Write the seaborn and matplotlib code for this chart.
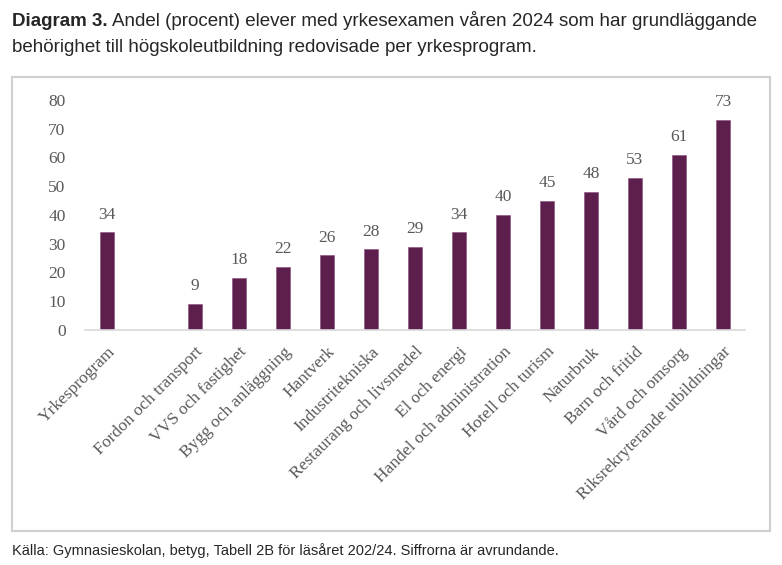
import pandas as pd
import numpy as np
import matplotlib.pyplot as plt
import seaborn as sns
from matplotlib.patches import Rectangle

# data
categories = ['Yrkesprogram', ' ', 'Fordon och transport', 'VVS och fastighet',
              'Bygg och anläggning', 'Hantverk', 'Industritekniska',
              'Restaurang och livsmedel', 'El och energi', 'Handel och administration',
              'Hotell och turism', 'Naturbruk', 'Barn och fritid', 'Vård och omsorg',
              'Riksrekryterande utbildningar']
programs = ['Yrkesprogram', 'Fordon och transport', 'VVS och fastighet',
            'Bygg och anläggning', 'Hantverk', 'Industritekniska',
            'Restaurang och livsmedel', 'El och energi', 'Handel och administration',
            'Hotell och turism', 'Naturbruk', 'Barn och fritid', 'Vård och omsorg',
            'Riksrekryterande utbildningar']
values = [34, 9, 18, 22, 26, 28, 29, 34, 40, 45, 48, 53, 61, 73]
yticks = [0, 10, 20, 30, 40, 50, 60, 70, 80]

df = pd.DataFrame({'program': programs, 'andel': values})

sns.set_style("white")
plt.rcParams['font.family'] = ['Liberation Sans', 'DejaVu Sans']

fig = plt.figure(figsize=(7.82, 5.65), dpi=100)
ax = fig.add_axes([0.1087, 0.416, 0.844, 0.407])

barcolor = '#5c1f4e'
sns.barplot(data=df, x='program', y='andel', order=categories, color=barcolor,
            width=0.32, saturation=1, ax=ax, edgecolor='#8a4a7a', linewidth=0.4)

ax.set_ylim(0, 80)
ax.set_xlim(-0.5, len(categories) - 0.5)
ax.set_yticks(yticks)
ax.set_xlabel('')
ax.set_ylabel('')

serif = ['Liberation Serif', 'DejaVu Serif']
grey = '#595959'
ax.set_yticklabels([str(t) for t in yticks], family=serif, fontsize=12.5, color=grey)
ax.set_xticks(range(len(categories)))
ax.set_xticklabels(categories, family=serif, fontsize=12.5, color=grey,
                   rotation=45, ha='right', rotation_mode='anchor')
ax.tick_params(axis='y', length=0, pad=14)
ax.tick_params(axis='x', length=0, pad=10)

for s in ['top', 'right', 'left']:
    ax.spines[s].set_visible(False)
ax.spines['bottom'].set_color('#d9d9d9')
ax.spines['bottom'].set_linewidth(1.2)

for c in ax.containers:
    labels = [('' if np.isnan(v) else str(int(round(v)))) for v in c.datavalues]
    txts = ax.bar_label(c, labels=labels, padding=7, fontsize=12.5, color=grey, family=serif)
    for t in txts:
        t.set_clip_on(False)

# frame around the chart
fig.patches.append(Rectangle((0.0153, 0.0602), 0.9695, 0.8035, transform=fig.transFigure,
                             fill=False, edgecolor='#cfcfcf', linewidth=1.5))

# title: bold lead-in followed by regular text
t1 = fig.text(0.0153, 0.954, 'Diagram 3.', fontsize=13.5, fontweight='bold', va='baseline')
fig.canvas.draw()
bb = t1.get_window_extent(renderer=fig.canvas.get_renderer())
x_rest = (bb.x1 + 4) / fig.bbox.width
fig.text(x_rest, 0.954, 'Andel (procent) elever med yrkesexamen våren 2024 som har grundläggande',
         fontsize=13.5, va='baseline')
fig.text(0.0153, 0.908, 'behörighet till högskoleutbildning redovisade per yrkesprogram.',
         fontsize=13.5, va='baseline')

fig.text(0.0153, 0.0177, 'Källa: Gymnasieskolan, betyg, Tabell 2B för läsåret 202/24. Siffrorna är avrundande.',
         fontsize=10.5, va='baseline')

fig.savefig('out.png', dpi=100)
